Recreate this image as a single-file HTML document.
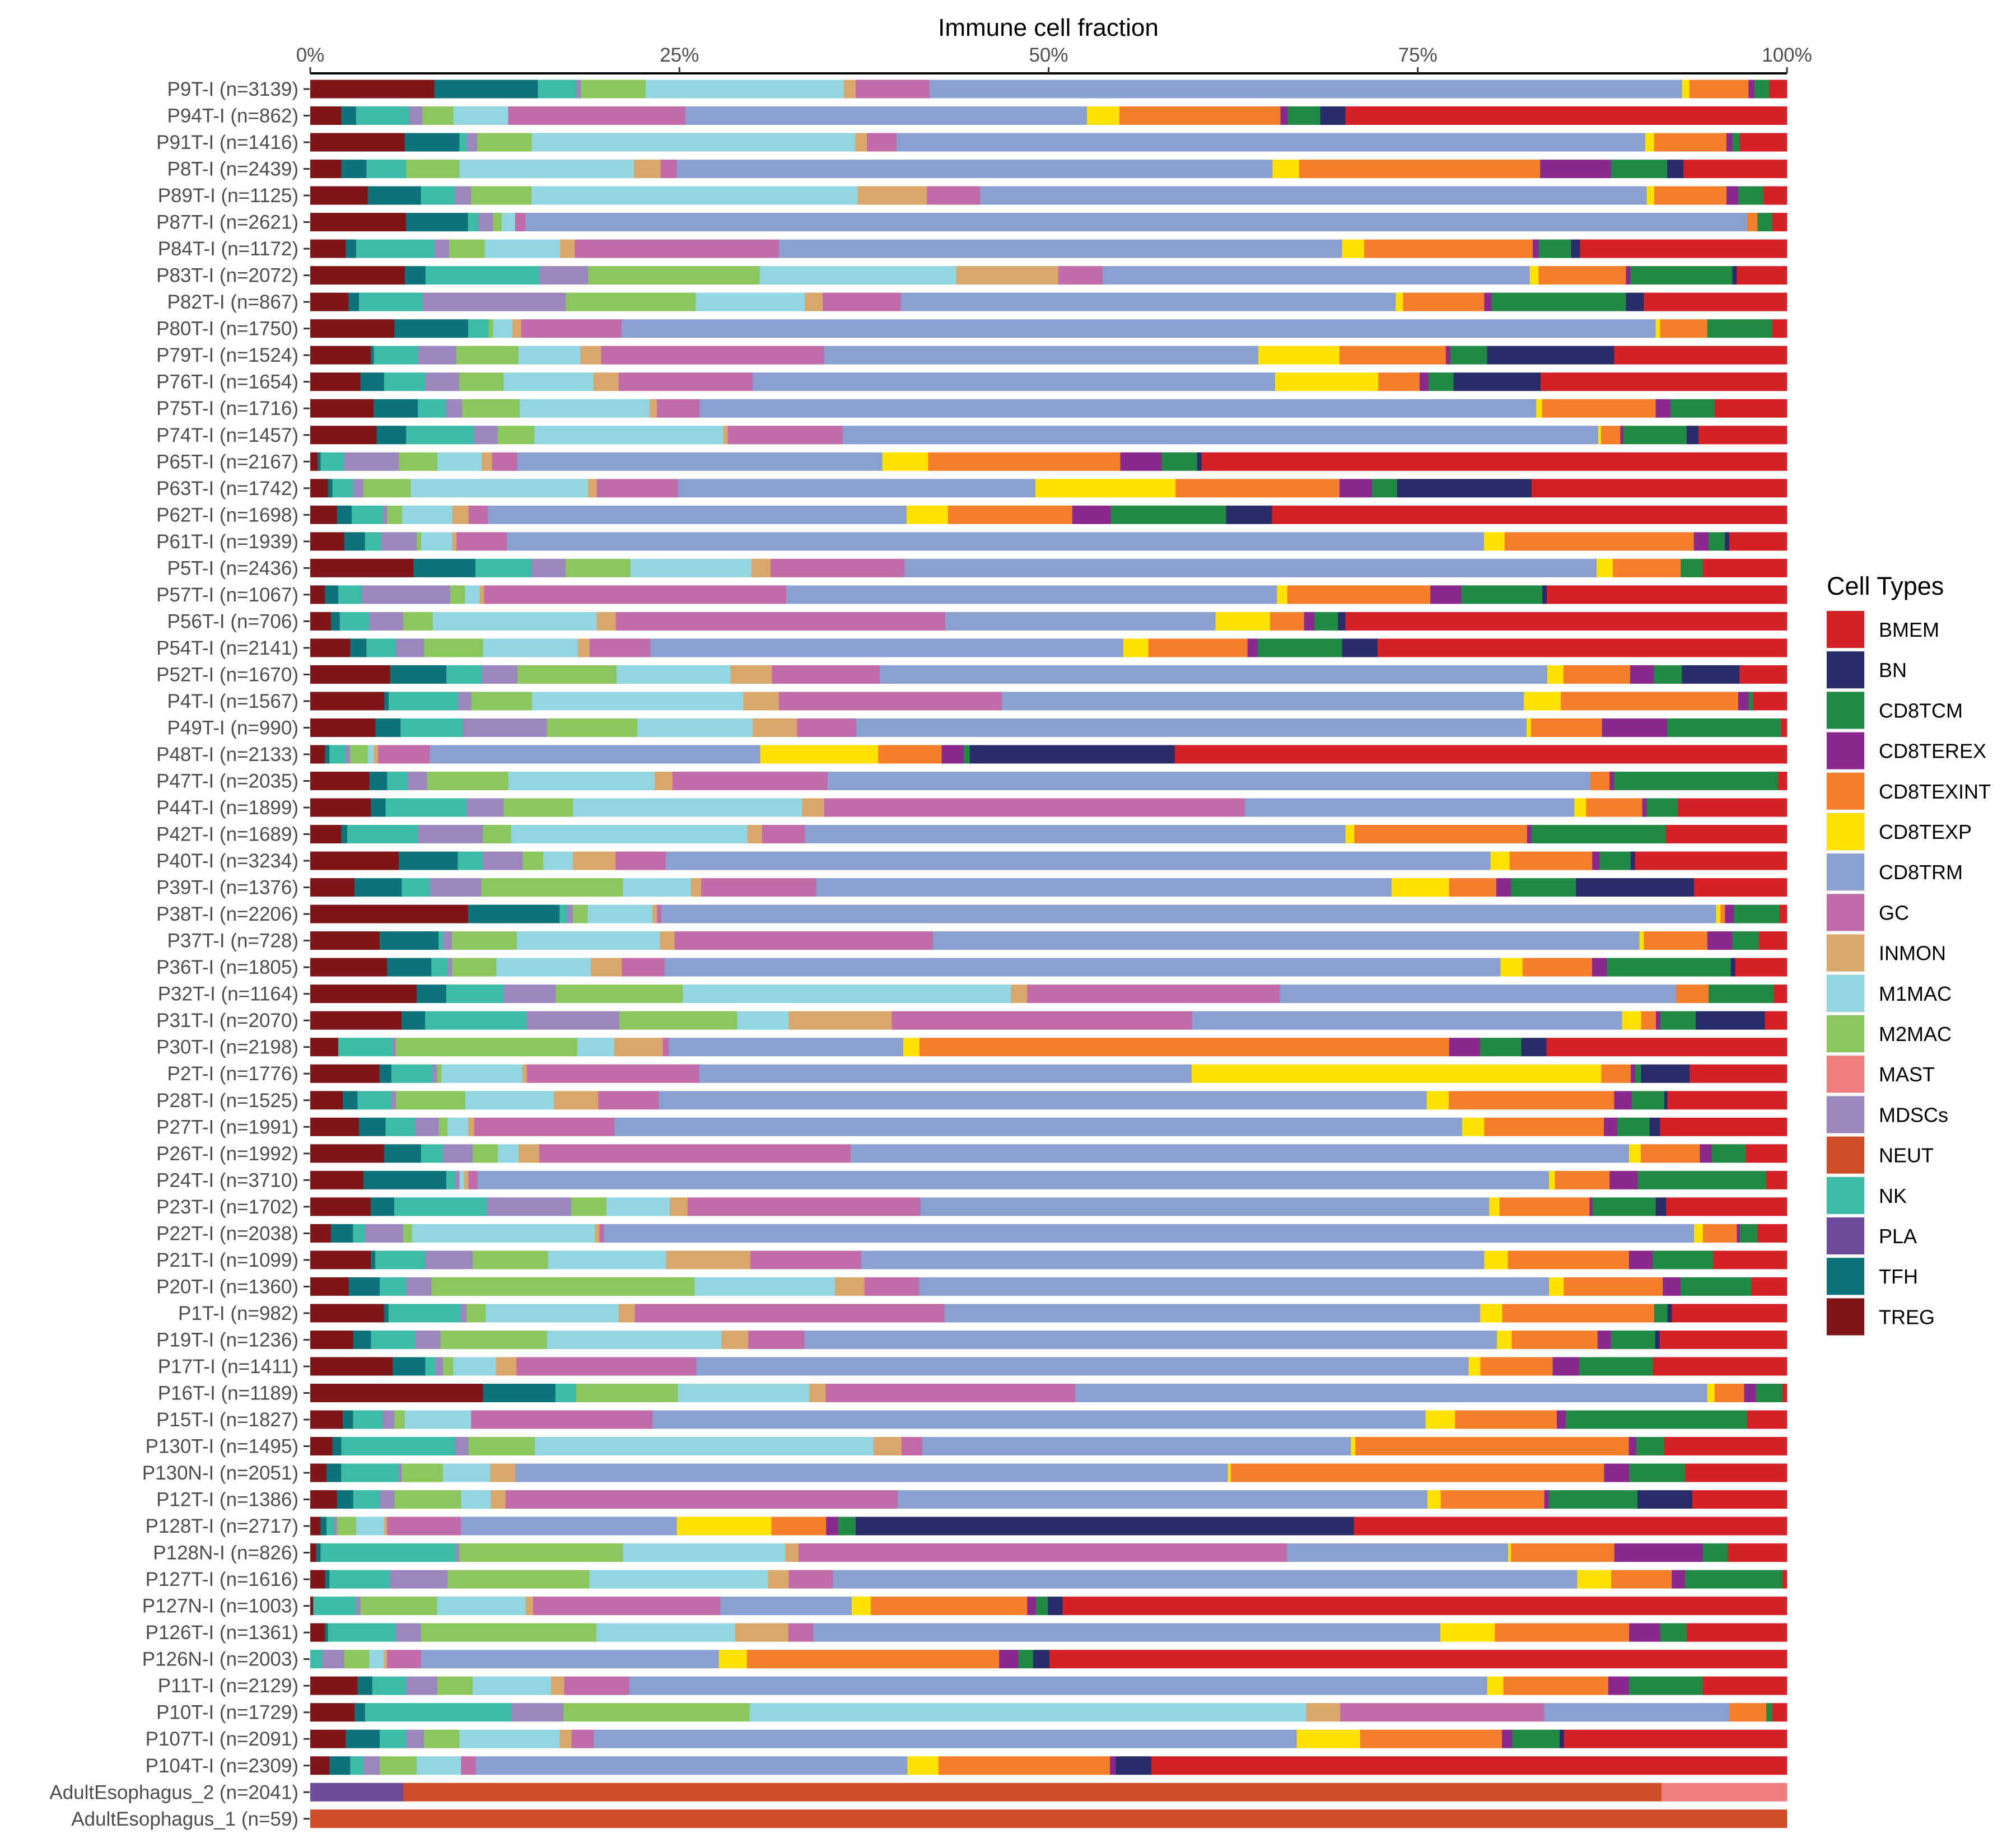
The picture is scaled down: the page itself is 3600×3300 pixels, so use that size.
<!DOCTYPE html>
<html><head><meta charset="utf-8"><style>
html,body{margin:0;padding:0;background:#fff;}
svg{display:block;font-family:"Liberation Sans",sans-serif;}
</style></head><body>
<svg id="chart" width="3600" height="3300" viewBox="0 0 3600 3300" xmlns="http://www.w3.org/2000/svg">
<text x="1872" y="64" font-size="44" text-anchor="middle" fill="#000">Immune cell fraction</text>
<g id="axis"></g>
<g id="bars"></g>
<g id="labels"></g>
<g id="legend"></g>
</svg>
<script>
const cellTypes = ["TREG","TFH","PLA","NK","NEUT","MDSCs","MAST","M2MAC","M1MAC","INMON","GC","CD8TRM","CD8TEXP","CD8TEXINT","CD8TEREX","CD8TCM","BN","BMEM"];
const legendOrder = ["BMEM","BN","CD8TCM","CD8TEREX","CD8TEXINT","CD8TEXP","CD8TRM","GC","INMON","M1MAC","M2MAC","MAST","MDSCs","NEUT","NK","PLA","TFH","TREG"];
const typeColors = {BMEM:"#d62027",BN:"#282d69",CD8TCM:"#208943",CD8TEREX:"#8a288d",CD8TEXINT:"#f47e2c",CD8TEXP:"#ffe100",CD8TRM:"#8aa0d0",GC:"#c16ba8",INMON:"#d8a76a",M1MAC:"#92d6e4",M2MAC:"#8bc75c",MAST:"#f07c7c",MDSCs:"#9b86bd",NEUT:"#d14c28",NK:"#3cbca6",PLA:"#6f4b9c",TFH:"#0e727b",TREG:"#7f1518"};
const sampleLabels = ["P9T-I (n=3139)","P94T-I (n=862)","P91T-I (n=1416)","P8T-I (n=2439)","P89T-I (n=1125)","P87T-I (n=2621)","P84T-I (n=1172)","P83T-I (n=2072)","P82T-I (n=867)","P80T-I (n=1750)","P79T-I (n=1524)","P76T-I (n=1654)","P75T-I (n=1716)","P74T-I (n=1457)","P65T-I (n=2167)","P63T-I (n=1742)","P62T-I (n=1698)","P61T-I (n=1939)","P5T-I (n=2436)","P57T-I (n=1067)","P56T-I (n=706)","P54T-I (n=2141)","P52T-I (n=1670)","P4T-I (n=1567)","P49T-I (n=990)","P48T-I (n=2133)","P47T-I (n=2035)","P44T-I (n=1899)","P42T-I (n=1689)","P40T-I (n=3234)","P39T-I (n=1376)","P38T-I (n=2206)","P37T-I (n=728)","P36T-I (n=1805)","P32T-I (n=1164)","P31T-I (n=2070)","P30T-I (n=2198)","P2T-I (n=1776)","P28T-I (n=1525)","P27T-I (n=1991)","P26T-I (n=1992)","P24T-I (n=3710)","P23T-I (n=1702)","P22T-I (n=2038)","P21T-I (n=1099)","P20T-I (n=1360)","P1T-I (n=982)","P19T-I (n=1236)","P17T-I (n=1411)","P16T-I (n=1189)","P15T-I (n=1827)","P130T-I (n=1495)","P130N-I (n=2051)","P12T-I (n=1386)","P128T-I (n=2717)","P128N-I (n=826)","P127T-I (n=1616)","P127N-I (n=1003)","P126T-I (n=1361)","P126N-I (n=2003)","P11T-I (n=2129)","P10T-I (n=1729)","P107T-I (n=2091)","P104T-I (n=2309)","AdultEsophagus_2 (n=2041)","AdultEsophagus_1 (n=59)"];
const tickValues = [0,25,50,75,100];
const tickLabels = ["0%","25%","50%","75%","100%"];
// fractions (%) per sample, columns in cellTypes order
const fractions = [
[8.4,7.0,0,2.6,0,0.3,0,4.4,13.4,0.8,5.0,50.9,0.5,4.0,0.4,1.0,0,1.2],
[2.1,1.0,0,3.6,0,0.9,0,2.1,3.7,0,12.0,27.2,2.2,10.9,0.5,2.2,1.7,29.9],
[6.4,3.7,0,0.5,0,0.7,0,3.7,21.9,0.8,2.0,50.7,0.6,4.9,0.4,0.5,0,3.2],
[2.1,1.7,0,2.7,0,0,0,3.6,11.8,1.8,1.1,40.3,1.8,16.3,4.8,3.8,1.1,7.0],
[3.9,3.6,0,2.3,0,1.1,0,4.1,22.1,4.7,3.6,45.2,0.5,4.9,0.8,1.7,0,1.6],
[6.5,4.2,0,0.7,0,1.0,0,0.6,0.9,0,0.7,82.9,0,0.7,0,1.0,0,1.0],
[2.4,0.7,0,5.3,0,1.0,0,2.4,5.1,1.0,13.8,38.1,1.5,11.4,0.4,2.2,0.6,14.0],
[6.4,1.4,0,7.7,0,3.3,0,11.6,13.3,6.9,3.0,28.9,0.6,5.9,0.3,6.9,0.3,3.4],
[2.6,0.7,0,4.3,0,9.7,0,8.8,7.4,1.2,5.3,33.5,0.5,5.5,0.5,9.1,1.2,9.7],
[5.7,5.0,0,1.4,0,0,0,0.3,1.3,0.6,6.8,70.1,0.3,3.2,0,4.4,0,1.0],
[4.1,0.2,0,3.0,0,2.6,0,4.2,4.2,1.4,15.1,29.4,5.5,7.2,0.3,2.5,8.6,11.7],
[3.4,1.6,0,2.8,0,2.3,0,3.0,6.1,1.7,9.1,35.4,7.0,2.8,0.6,1.7,5.9,16.7],
[4.3,3.0,0,1.9,0,1.1,0,3.9,8.8,0.5,2.9,56.7,0.4,7.7,1.0,3.0,0,4.9],
[4.5,2.0,0,4.6,0,1.6,0,2.5,12.8,0.3,7.8,51.2,0.2,1.3,0.2,4.3,0.8,6.0],
[0.5,0.2,0,1.6,0,3.7,0,2.6,3.0,0.7,1.7,24.7,3.1,13.0,2.8,2.4,0.3,39.6],
[1.2,0.3,0,1.4,0,0.7,0,3.2,12.0,0.6,5.5,24.2,9.5,11.1,2.2,1.7,9.1,17.3],
[1.8,1.0,0,2.1,0,0.3,0,1.0,3.4,1.1,1.3,28.3,2.8,8.4,2.6,7.8,3.1,34.8],
[2.3,1.4,0,1.1,0,2.4,0,0.3,2.1,0.3,3.4,66.1,1.4,12.8,1.0,1.1,0.3,3.9],
[7.0,4.2,0,3.8,0,2.3,0,4.4,8.2,1.3,9.1,46.9,1.1,4.6,0,1.5,0,5.7],
[1.0,0.9,0,1.6,0,6.0,0,1.0,1.0,0.3,20.5,33.3,0.7,9.7,2.1,5.5,0.3,16.3],
[1.4,0.6,0,2.0,0,2.3,0,2.0,11.1,1.3,22.3,18.3,3.7,2.3,0.7,1.6,0.5,29.9],
[2.7,1.1,0,2.0,0,1.9,0,4.0,6.4,0.8,4.1,32.0,1.7,6.7,0.7,5.7,2.4,27.7],
[5.4,3.8,0,2.4,0,2.4,0,6.7,7.7,2.8,7.3,45.1,1.1,4.5,1.6,1.9,3.9,3.2],
[5.0,0.3,0,4.7,0,0.9,0,4.1,14.3,2.4,15.1,35.3,2.5,12.0,0.7,0.3,0,2.3],
[4.4,1.7,0,4.2,0,5.7,0,6.1,7.8,3.0,4.0,45.3,0.3,4.8,4.4,7.7,0,0.4],
[1.0,0.3,0,1.1,0,0.3,0,1.2,0.4,0.3,3.5,22.4,8.0,4.3,1.5,0.4,13.9,41.5],
[4.0,1.2,0,1.4,0,1.3,0,5.5,9.9,1.2,10.5,51.6,0,1.3,0.3,11.1,0,0.6],
[4.1,1.0,0,5.5,0,2.5,0,4.7,15.5,1.5,28.5,22.3,0.8,3.8,0.3,2.1,0,7.4],
[2.1,0.4,0,4.8,0,4.4,0,1.9,16.0,1.0,2.9,36.6,0.6,11.7,0.3,9.1,0,8.2],
[6.0,4.0,0,1.7,0,2.7,0,1.4,2.0,2.9,3.4,55.9,1.3,5.6,0.5,2.1,0.3,10.3],
[3.0,3.2,0,1.9,0,3.5,0,9.6,4.6,0.7,7.8,39.0,3.9,3.2,1.0,4.4,8.0,6.3],
[10.7,6.2,0,0.5,0,0.4,0,1.0,4.4,0.3,0.3,71.5,0.3,0.3,0.6,3.1,0,0.5],
[4.7,4.0,0,0.3,0,0.6,0,4.4,9.7,1.0,17.5,47.9,0.3,4.3,1.7,1.8,0,1.9],
[5.2,3.0,0,1.1,0,0.3,0,3.0,6.4,2.1,2.9,56.6,1.5,4.7,1.0,8.4,0.3,3.5],
[7.2,2.0,0,3.9,0,3.5,0,8.6,22.2,1.1,17.1,26.8,0,2.2,0,4.4,0,0.9],
[6.2,1.6,0,6.9,0,6.3,0,8.0,3.5,7.0,20.4,29.2,1.3,1.0,0.3,2.4,4.7,1.5],
[1.9,0,0,3.7,0,0.2,0,12.3,2.5,3.3,0.4,15.9,1.1,35.9,2.1,2.8,1.7,16.3],
[4.7,0.8,0,2.8,0,0.3,0,0.3,5.5,0.3,11.7,33.4,27.8,2.0,0.3,0.4,3.3,6.6],
[2.2,1.0,0,2.3,0,0.3,0,4.7,6.0,3.0,4.1,52.0,1.5,11.2,1.2,2.2,0.2,8.1],
[3.3,1.8,0,2.0,0,1.6,0,0.6,1.4,0.4,9.5,57.4,1.5,8.1,0.9,2.2,0.7,8.6],
[5.0,2.5,0,1.5,0,2.0,0,1.7,1.4,1.4,21.1,52.7,0.8,4.0,0.8,2.3,0,2.8],
[3.6,5.6,0,0.6,0,0.3,0,0,0.3,0.3,0.6,72.5,0.4,3.7,1.9,8.7,0,1.4],
[4.1,1.6,0,6.3,0,5.7,0,2.4,4.3,1.2,15.8,38.6,0.7,6.1,0.2,4.3,0.7,8.2],
[1.4,1.5,0,0.8,0,2.6,0,0.6,12.4,0.3,0.3,73.9,0.6,2.3,0.2,1.2,0,2.0],
[4.1,0.3,0,3.4,0,3.2,0,5.1,8.0,5.7,7.5,42.2,1.6,8.2,1.6,4.1,0,5.0],
[2.6,2.1,0,1.8,0,1.7,0,17.8,9.5,2.0,3.7,42.6,1.0,6.7,1.2,4.8,0,2.4],
[5.0,0.3,0,4.9,0,0.4,0,1.3,9.0,1.1,21.0,36.3,1.5,10.3,0,0.9,0.3,7.8],
[2.9,1.2,0,3.0,0,1.7,0,7.2,11.8,1.8,3.8,46.8,1.0,5.8,0.9,3.0,0.3,8.6],
[5.6,2.2,0,0.7,0,0.5,0,0.7,2.9,1.4,12.2,52.4,0.8,4.9,1.8,5.0,0,9.1],
[11.7,4.9,0,1.4,0,0,0,6.9,8.9,1.1,16.9,42.8,0.5,2.0,0.8,1.8,0,0.3],
[2.2,0.7,0,2.0,0,0.8,0,0.7,4.5,0,12.3,52.4,2.0,6.9,0.6,12.3,0,2.7],
[1.5,0.6,0,7.7,0,0.9,0,4.5,22.9,1.9,1.4,29.0,0.3,18.5,0.5,1.9,0,8.3],
[1.1,1.0,0,3.9,0,0.2,0,2.8,3.2,1.7,0,48.3,0.2,25.3,1.7,3.8,0,6.9],
[1.8,1.1,0,1.8,0,1.0,0,4.5,2.0,1.0,26.5,35.8,0.9,7.0,0.3,6.0,3.7,6.4],
[0.7,0.4,0,0.5,0,0.2,0,1.3,1.9,0.2,5.0,14.6,6.4,3.7,0.8,1.2,33.7,29.3],
[0.4,0.3,0,9.2,0,0.2,0,11.1,11.0,0.9,33.1,15.0,0.2,7.0,6.0,1.7,0,4.0],
[1.0,0.3,0,4.1,0,3.9,0,9.6,12.1,1.4,3.0,50.4,2.3,4.1,0.9,6.6,0,0.3],
[0.2,0,0,2.9,0,0.3,0,5.2,6.0,0.5,12.7,8.9,1.3,10.6,0.6,0.8,1.0,49.1],
[1.0,0.2,0,4.6,0,1.7,0,11.9,9.4,3.6,1.7,42.5,3.7,9.1,2.1,1.8,0,6.8],
[0,0,0,0.8,0,1.5,0,1.7,1.0,0.2,2.3,20.2,1.9,17.1,1.3,1.0,1.1,50.0],
[3.2,1.0,0,2.3,0,2.1,0,2.4,5.3,0.9,4.4,58.1,1.1,7.1,1.4,5.0,0,5.7],
[3.0,0.7,0,9.9,0,3.5,0,12.6,37.6,2.3,13.8,12.5,0,2.5,0,0.4,0,1.0],
[2.4,2.3,0,1.8,0,1.2,0,2.4,6.8,0.8,1.5,47.6,4.3,9.6,0.7,3.2,0.3,15.1],
[1.3,1.4,0,0.9,0,1.1,0,2.5,3.0,0,1.0,29.2,2.1,11.6,0.4,0,2.4,43.0],
[0,0,6.3,0,85.2,0,8.5,0,0,0,0,0,0,0,0,0,0,0],
[0,0,0,0,100,0,0,0,0,0,0,0,0,0,0,0,0,0]
];
</script>
<script>
const NS = "http://www.w3.org/2000/svg";
const X0 = 554, X1 = 3191, Y0 = 159, DY = 47.52, BH = 33;
function xScale(p){ return X0 + p/100*(X1-X0); }
function yScale(i){ return Y0 + i*DY; }
function mk(tag, attrs, parent){ const e=document.createElementNS(NS,tag); for(const k in attrs) e.setAttribute(k,attrs[k]); parent.appendChild(e); return e; }

const axis = document.getElementById('axis');
const al = mk('line',{x1:X0,x2:X1,y1:131,y2:131,stroke:'#000','stroke-width':4},axis);


tickValues.forEach((v,i)=>{
  const t = mk('line',{x1:xScale(v),x2:xScale(v),y1:120,y2:131,stroke:'#333','stroke-width':3},axis);
  
  
  const tx = mk('text',{x:xScale(v),y:110,'font-size':35,'text-anchor':'middle',fill:'#4d4d4d'},axis);
  tx.textContent = tickLabels[i];
  
  
});

const bars = document.getElementById('bars');
const labels = document.getElementById('labels');
fractions.forEach((row,i)=>{
  const total = row.reduce((a,b)=>a+b,0);
  let cum = 0;
  const cy = yScale(i);
  row.forEach((v,j)=>{
    if(v<=0) return;
    const x = xScale(cum/total*100), w = xScale((cum+v)/total*100)-x;
    cum += v;
    const r = mk('rect',{x:x,y:cy-BH/2,width:w+0.4,height:BH,fill:typeColors[cellTypes[j]]},bars);
    
    
  });
  const tk = mk('line',{x1:542,x2:553,y1:cy,y2:cy,stroke:'#333','stroke-width':3},labels);
  
  
  const lt = mk('text',{x:533,y:cy+12,'font-size':35,'text-anchor':'end',fill:'#4d4d4d',textLength:null},labels);
  lt.removeAttribute('textLength');
  lt.textContent = sampleLabels[i];
  
  
});

const legend = document.getElementById('legend');
const lt = mk('text',{x:3262,y:1062,'font-size':45,fill:'#000'},legend);
lt.textContent = 'Cell Types';


legendOrder.forEach((name,i)=>{
  const y = 1091 + i*72.2;
  const bg = mk('rect',{x:3260,y:y-2,width:71,height:70,fill:'#f2f2f2'},legend);
  
  
  const r = mk('rect',{x:3262,y:y,width:67,height:66,fill:typeColors[name]},legend);
  
  
  const t = mk('text',{x:3355,y:y+46,'font-size':36,fill:'#000'},legend);
  t.textContent = name;
  
  
});
</script>
</body></html>
